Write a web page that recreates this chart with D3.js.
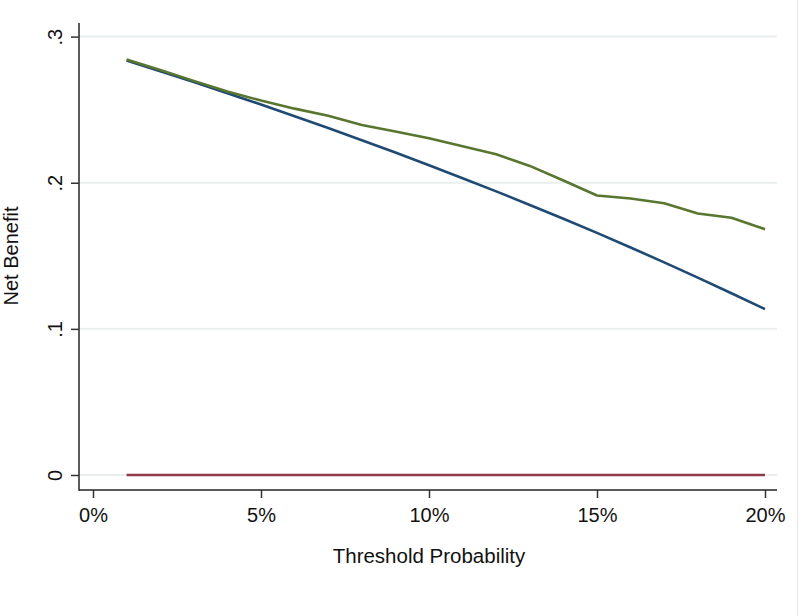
<!DOCTYPE html>
<html>
<head>
<meta charset="utf-8">
<script src="https://cdn.jsdelivr.net/npm/d3@7"></script>
<style>
  html, body { margin: 0; padding: 0; background: #fff; }
  svg { display: block; font-family: Arial, "Liberation Sans", sans-serif; }
</style>
</head>
<body>
<svg id="chart" width="800" height="616"></svg>
<script>
// Threshold probabilities (1% .. 20%)
const thresholds = [0.01,0.02,0.03,0.04,0.05,0.06,0.07,0.08,0.09,0.10,
                    0.11,0.12,0.13,0.14,0.15,0.16,0.17,0.18,0.19,0.20];
// Net benefit: model (green)
const modelNB = [0.2843,0.2772,0.2697,0.2625,0.2562,0.2507,0.2458,0.2395,0.2350,0.2305,
                 0.2250,0.2195,0.2115,0.2015,0.1913,0.1892,0.1860,0.1790,0.1760,0.1682];
// Net benefit: treat all (navy)
const allNB = [0.2836,0.2763,0.2689,0.2613,0.2535,0.2455,0.2374,0.2291,0.2207,0.2120,
               0.2031,0.1941,0.1848,0.1754,0.1657,0.1557,0.1455,0.1351,0.1244,0.1135];
// Net benefit: treat none (maroon)
const noneNB = [0,0,0,0,0,0,0,0,0,0,0,0,0,0,0,0,0,0,0,0];

const xTicks = [0,0.05,0.10,0.15,0.20];
const xTickLabels = ["0%","5%","10%","15%","20%"];
const yTicks = [0,0.1,0.2,0.3];
const yTickLabels = ["0",".1",".2",".3"];

const svg = d3.select("#chart");
const x = d3.scaleLinear().domain([0,0.2]).range([93,765]);
const y = d3.scaleLinear().domain([0,0.3]).range([475,36.6]);

const plotLeft = 79, plotRight = 777, plotTop = 23, plotBottom = 490;

// faint outer frame at right edge
svg.append("line").attr("x1",797.5).attr("x2",797.5).attr("y1",0).attr("y2",616)
  .attr("stroke","#ececec").attr("stroke-width",1.5);

// gridlines
svg.append("g").selectAll("line").data(yTicks).join("line")
  .attr("x1",plotLeft).attr("x2",plotRight)
  .attr("y1",d=>y(d)).attr("y2",d=>y(d))
  .attr("stroke","#eaeeef").attr("stroke-width",2);

// lines
const line = d3.line().x((d,i)=>x(thresholds[i])).y(d=>y(d));
const series = [
  {vals: noneNB, color:"#8e3a4b"},
  {vals: allNB, color:"#1f4a73"},
  {vals: modelNB, color:"#58762f"}
];
svg.append("g").selectAll("path").data(series).join("path")
  .attr("d",d=>line(d.vals))
  .attr("fill","none")
  .attr("stroke",d=>d.color)
  .attr("stroke-width",2.6)
  .attr("stroke-linejoin","round");

// y axis
const yAxis = d3.axisLeft(y).tickValues(yTicks)
  .tickFormat((d,i)=>yTickLabels[i]).tickSize(8).tickSizeOuter(0);
const gy = svg.append("g").attr("transform",`translate(${plotLeft},0)`).call(yAxis);
gy.select(".domain").remove();
gy.selectAll(".tick line").attr("stroke","#333").attr("stroke-width",1.5);
gy.selectAll(".tick text")
  .attr("font-size",20).attr("fill","#111")
  .attr("text-anchor","middle")
  .attr("transform","rotate(-90)")
  .attr("x",0).attr("y",-17).attr("dy",0);
svg.append("line").attr("x1",plotLeft).attr("x2",plotLeft)
  .attr("y1",plotTop).attr("y2",plotBottom+0.75)
  .attr("stroke","#333").attr("stroke-width",1.6);

// x axis
const xAxis = d3.axisBottom(x).tickValues(xTicks)
  .tickFormat((d,i)=>xTickLabels[i]).tickSize(8).tickSizeOuter(0);
const gx = svg.append("g").attr("transform",`translate(0,${plotBottom})`).call(xAxis);
gx.select(".domain").remove();
gx.selectAll(".tick line").attr("stroke","#333").attr("stroke-width",1.5);
gx.selectAll(".tick text").attr("font-size",20).attr("fill","#111")
  .attr("y",32).attr("dy",0);
svg.append("line").attr("x1",plotLeft).attr("x2",plotRight)
  .attr("y1",plotBottom).attr("y2",plotBottom)
  .attr("stroke","#222").attr("stroke-width",1.6);

// axis titles
svg.append("text").attr("x",429).attr("y",563).attr("text-anchor","middle")
  .attr("font-size",20.5).attr("fill","#111").text("Threshold Probability");
svg.append("text").attr("transform","translate(18,256) rotate(-90)")
  .attr("text-anchor","middle").attr("font-size",20).attr("fill","#111")
  .text("Net Benefit");
</script>
</body>
</html>
